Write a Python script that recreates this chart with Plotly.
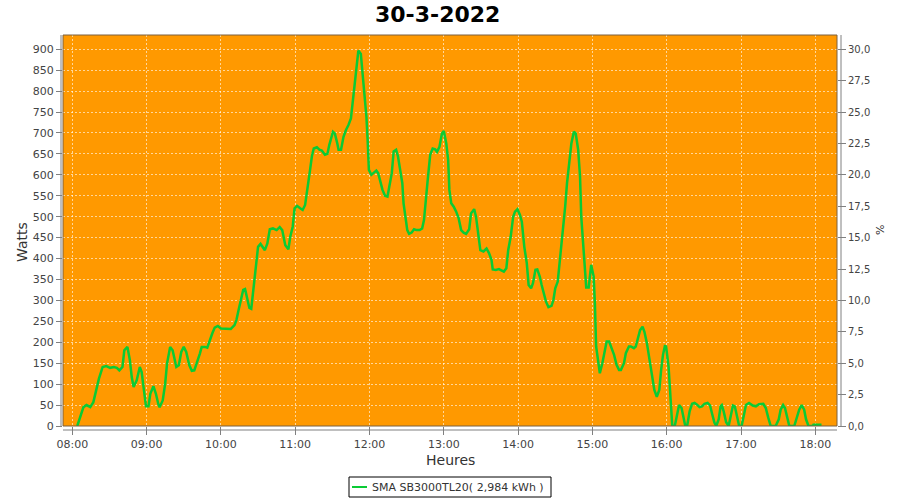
import plotly.graph_objects as go

DAY = "2022-03-30"
times = [
    "08:04:00", "08:06:30", "08:09:00", "08:11:30", "08:14:30", "08:17:00", "08:19:00", "08:21:30",
    "08:24:30", "08:27:30", "08:30:30", "08:33:30", "08:36:00", "08:38:00", "08:40:30", "08:42:00",
    "08:44:30", "08:46:30", "08:48:00", "08:49:30", "08:52:00", "08:54:30", "08:56:00", "08:58:00",
    "08:59:30", "09:01:30", "09:03:00", "09:05:30", "09:07:30", "09:09:30", "09:10:30", "09:13:00",
    "09:15:00", "09:16:30", "09:19:00", "09:21:00", "09:24:00", "09:26:00", "09:28:00", "09:30:00",
    "09:32:00", "09:34:30", "09:36:30", "09:38:30", "09:41:30", "09:43:00", "09:44:30", "09:47:00",
    "09:49:00", "09:50:30", "09:53:00", "09:55:00", "09:57:30", "10:00:00", "10:04:00", "10:08:00",
    "10:11:00", "10:12:30", "10:14:30", "10:16:00", "10:18:00", "10:19:30", "10:21:30", "10:23:00",
    "10:24:30", "10:26:30", "10:28:00", "10:30:00", "10:32:00", "10:34:00", "10:35:30", "10:37:30",
    "10:39:30", "10:42:00", "10:45:00", "10:47:30", "10:49:30", "10:52:00", "10:54:30", "10:56:00",
    "10:58:00", "10:59:30", "11:01:30", "11:04:00", "11:06:00", "11:08:00", "11:09:30", "11:12:00",
    "11:13:30", "11:15:00", "11:17:30", "11:19:30", "11:21:30", "11:24:00", "11:26:00", "11:27:30",
    "11:30:30", "11:32:00", "11:34:00", "11:35:00", "11:37:00", "11:39:00", "11:41:00", "11:43:00",
    "11:45:00", "11:46:30", "11:48:30", "11:50:00", "11:51:00", "11:53:00", "11:54:30", "11:56:00",
    "11:57:30", "11:58:30", "11:59:30", "12:01:30", "12:03:00", "12:05:30", "12:07:00", "12:08:30",
    "12:10:30", "12:12:30", "12:14:30", "12:16:00", "12:18:00", "12:19:30", "12:21:30", "12:23:00",
    "12:25:00", "12:26:30", "12:27:30", "12:29:00", "12:30:30", "12:32:00", "12:34:00", "12:36:00",
    "12:38:00", "12:40:30", "12:42:30", "12:44:00", "12:45:30", "12:47:00", "12:49:00", "12:51:00",
    "12:53:00", "12:54:30", "12:56:30", "12:58:30", "13:00:00", "13:02:00", "13:03:30", "13:04:30",
    "13:06:00", "13:08:00", "13:10:00", "13:12:00", "13:14:00", "13:16:00", "13:18:00", "13:20:30",
    "13:22:00", "13:24:30", "13:26:00", "13:28:00", "13:29:30", "13:32:00", "13:34:30", "13:36:30",
    "13:38:30", "13:39:30", "13:42:00", "13:44:30", "13:46:30", "13:48:30", "13:50:30", "13:52:00",
    "13:54:00", "13:56:00", "13:57:30", "13:59:30", "14:01:30", "14:03:00", "14:05:00", "14:07:00",
    "14:08:30", "14:10:30", "14:12:00", "14:14:00", "14:15:30", "14:17:30", "14:19:00", "14:20:30",
    "14:22:30", "14:24:30", "14:27:00", "14:28:30", "14:30:00", "14:32:00", "14:33:00", "14:35:00",
    "14:36:30", "14:38:00", "14:39:30", "14:41:30", "14:43:00", "14:45:00", "14:46:30", "14:48:30",
    "14:50:00", "14:51:00", "14:52:30", "14:54:00", "14:55:00", "14:57:00", "14:58:00", "14:59:00",
    "15:01:00", "15:02:00", "15:03:00", "15:04:30", "15:06:00", "15:08:00", "15:10:00", "15:11:30",
    "15:13:30", "15:15:00", "15:17:30", "15:19:30", "15:21:30", "15:23:00", "15:25:30", "15:27:00",
    "15:29:30", "15:31:00", "15:33:30", "15:35:00", "15:37:00", "15:38:30", "15:40:30", "15:42:00",
    "15:44:00", "15:46:00", "15:48:00", "15:50:00", "15:52:00", "15:54:00", "15:55:30", "15:57:00",
    "15:58:30", "15:59:30", "16:01:30", "16:03:00", "16:04:30", "16:06:30", "16:08:30", "16:10:00",
    "16:12:00", "16:13:30", "16:15:00", "16:16:30", "16:18:30", "16:20:30", "16:22:30", "16:24:30",
    "16:26:30", "16:28:30", "16:30:30", "16:33:00", "16:35:00", "16:36:30", "16:38:30", "16:40:00",
    "16:42:00", "16:43:30", "16:44:30", "16:46:00", "16:48:00", "16:50:00", "16:51:30", "16:53:30",
    "16:55:00", "16:56:30", "16:58:30", "17:00:30", "17:02:00", "17:04:00", "17:06:30", "17:09:30",
    "17:12:00", "17:14:30", "17:18:00", "17:20:00", "17:22:00", "17:24:00", "17:28:00", "17:30:30",
    "17:32:00", "17:34:00", "17:35:30", "17:37:30", "17:39:00", "17:43:00", "17:44:30", "17:47:00",
    "17:49:00", "17:51:00", "17:52:30", "17:54:30", "17:58:00", "17:58:30", "18:05:00",
]
watts = [
    0, 21, 45, 50, 45, 57, 81, 113,
    141, 143, 139, 141, 139, 133, 141, 181,
    189, 157, 117, 93, 109, 141, 129, 85,
    47, 47, 77, 95, 77, 52, 45, 61,
    101, 149, 189, 181, 141, 145, 177, 189,
    177, 145, 132, 133, 157, 173, 189, 189,
    187, 201, 221, 235, 239, 233, 233, 232,
    241, 253, 280, 300, 325, 327, 303, 282,
    280, 333, 373, 428, 435, 427, 420, 436,
    470, 472, 468, 475, 468, 432, 422, 452,
    476, 520, 526, 520, 516, 528, 564, 612,
    645, 663, 666, 660, 658, 648, 650, 671,
    703, 699, 675, 660, 660, 691, 707, 719,
    735, 779, 835, 883, 897, 889, 843, 787,
    739, 683, 612, 600, 604, 610, 604, 588,
    564, 550, 548, 572, 604, 656, 660, 644,
    612, 580, 532, 492, 468, 459, 462, 470,
    468, 468, 472, 492, 532, 588, 648, 663,
    661, 655, 667, 699, 705, 675, 636, 564,
    532, 524, 512, 496, 468, 462, 459, 470,
    508, 518, 500, 460, 420, 417, 424, 413,
    397, 374, 373, 375, 371, 369, 377, 420,
    452, 500, 512, 518, 504, 488, 428, 389,
    337, 329, 341, 373, 374, 357, 337, 317,
    297, 284, 287, 301, 329, 345, 373, 424,
    468, 524, 580, 636, 675, 703, 699, 660,
    596, 500, 444, 389, 331, 331, 365, 385,
    357, 293, 190, 150, 126, 150, 182, 202,
    202, 190, 170, 146, 134, 134, 150, 174,
    190, 190, 186, 190, 213, 229, 237, 225,
    198, 158, 118, 86, 70, 86, 134, 170,
    191, 190, 142, 70, 0, 0, 31, 50,
    43, 16, 0, 0, 35, 53, 55, 51,
    45, 47, 53, 55, 49, 31, 8, 0,
    16, 47, 50, 35, 9, 0, 25, 49,
    47, 27, 0, 0, 20, 50, 55, 49,
    47, 52, 53, 43, 20, 0, 0, 16,
    39, 50, 43, 16, 0, 0, 16, 39,
    50, 39, 16, 0, 0, 3, 3,
]
hour_ticks = ["08:00", "09:00", "10:00", "11:00", "12:00", "13:00", "14:00",
              "15:00", "16:00", "17:00", "18:00"]

TITLE = "30-3-2022"
SERIES = "SMA SB3000TL20( 2,984 kWh )"
FONT = "DejaVu Sans"

# plot area in pixels
L, R, T, B = 63, 837, 35, 426
W, H = 900, 500


def px(xp):
    return (xp - L) / (R - L)


def py(yp):
    return (B - yp) / (B - T)


x_vals = [f"{DAY} {t}" for t in times]

fig = go.Figure()
fig.add_trace(go.Scatter(
    x=x_vals, y=watts, mode="lines", name=SERIES,
    line=dict(color="#0ACB35", width=2.5), showlegend=False,
))
fig.add_trace(go.Scatter(x=[], y=[], yaxis="y2", showlegend=False, hoverinfo="skip"))

grid = dict(showgrid=True, gridcolor="rgba(255,255,255,0.6)", gridwidth=1, griddash="2px,2px")
tickfont = dict(family=FONT, size=11, color="#444444")

fig.update_layout(
    width=W, height=H,
    margin=dict(l=L, r=W - R, t=T, b=H - B, pad=0),
    paper_bgcolor="white", plot_bgcolor="#FF9900",
    separators=", ",
    showlegend=False,
    xaxis=dict(
        type="date",
        range=[f"{DAY} 07:52:29", f"{DAY} 18:17:31"],
        tickvals=[f"{DAY} {h}" for h in hour_ticks], ticktext=hour_ticks,
        ticks="outside", ticklen=8, tickcolor="#808080", tickwidth=1,
        tickfont=tickfont, zeroline=False, showline=False, **grid,
    ),
    yaxis=dict(
        range=[0, 934.1], tick0=0, dtick=50,
        ticks="outside", ticklen=6, tickcolor="#808080", tickwidth=1,
        tickfont=tickfont, zeroline=False, showline=False, **grid,
    ),
    yaxis2=dict(
        overlaying="y", side="right", range=[0, 31.137], tick0=0, dtick=2.5,
        tickformat=".1f", ticks="outside", ticklen=8, tickcolor="#808080",
        tickfont=dict(family=FONT, size=10, color="#444444"),
        showgrid=False, zeroline=False, showline=False,
    ),
)

gray = "#808080"
shapes = [
    # plot outline
    dict(type="rect", xref="paper", yref="paper", x0=0, x1=1, y0=0, y1=1,
         line=dict(color="#7a6040", width=1), layer="above"),
    # axis lines (offset from plot area)
    dict(type="line", xref="paper", yref="paper", x0=px(61), x1=px(61), y0=py(B), y1=py(T),
         line=dict(color=gray, width=1)),
    dict(type="line", xref="paper", yref="paper", x0=px(L), x1=px(R), y0=py(430), y1=py(430),
         line=dict(color=gray, width=1)),
    dict(type="line", xref="paper", yref="paper", x0=px(841), x1=px(841), y0=py(B), y1=py(T),
         line=dict(color=gray, width=1)),
    # legend box and symbol
    dict(type="rect", xref="paper", yref="paper", x0=px(349), x1=px(551), y0=py(497), y1=py(477),
         line=dict(color="black", width=1), fillcolor="white"),
    dict(type="line", xref="paper", yref="paper", x0=px(352), x1=px(367), y0=py(487), y1=py(487),
         line=dict(color="#0ACB35", width=2)),
]
fig.update_layout(shapes=shapes)

annotations = [
    dict(text=f"<b>{TITLE}</b>", x=px(437.5), y=py(14), xref="paper", yref="paper",
         showarrow=False, xanchor="center", yanchor="middle",
         font=dict(family=FONT, size=22, color="black")),
    dict(text="Watts", x=px(22), y=py(242), xref="paper", yref="paper", textangle=-90,
         showarrow=False, xanchor="center", yanchor="middle",
         font=dict(family=FONT, size=14, color="#333333")),
    dict(text="Heures", x=px(450), y=py(460), xref="paper", yref="paper",
         showarrow=False, xanchor="center", yanchor="middle",
         font=dict(family=FONT, size=14, color="#333333")),
    dict(text="%", x=px(880), y=py(230), xref="paper", yref="paper", textangle=-90,
         showarrow=False, xanchor="center", yanchor="middle",
         font=dict(family=FONT, size=11, color="#333333")),
    dict(text=SERIES, x=px(370), y=py(487.5), xref="paper", yref="paper",
         showarrow=False, xanchor="left", yanchor="middle",
         font=dict(family=FONT, size=11, color="#333333")),
]
fig.update_layout(annotations=annotations)

fig.write_html("out.html", config={"displayModeBar": False},
               post_script="document.body.style.margin='0';document.body.style.overflow='hidden';")
